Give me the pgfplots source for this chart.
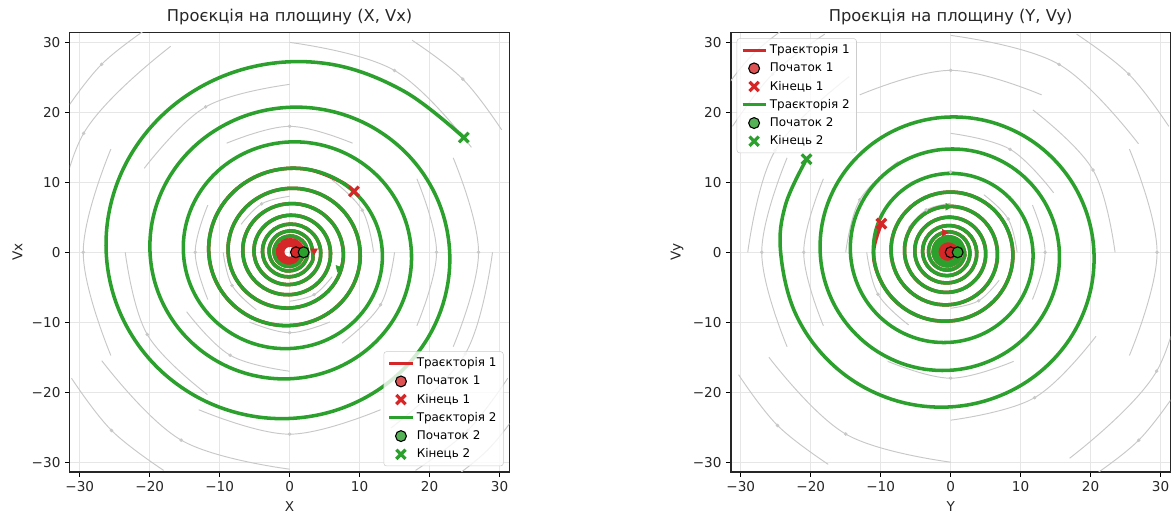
\documentclass[border=0pt]{standalone}
\usepackage{fontspec}
\setmainfont{DejaVu Sans}
\usepackage{pgfplots}
\pgfplotsset{compat=1.18}
\usetikzlibrary{arrows.meta}
\definecolor{tred}{HTML}{D62728}
\definecolor{tgreen}{HTML}{2CA02C}
\definecolor{gridc}{HTML}{E6E6E6}
\definecolor{streamc}{HTML}{C8C8C8}
\pgfplotsset{
 phase/.style={
  scale only axis, width=323.5pt, height=323.5pt,
  xmin=-31.4, xmax=31.4, ymin=-31.4, ymax=31.4,
  xtick={-30,-20,-10,0,10,20,30}, ytick={-30,-20,-10,0,10,20,30},
  xticklabels={−30,−20,−10,0,10,20,30}, yticklabels={−30,−20,−10,0,10,20,30},
  tick pos=left, tick align=outside, major tick length=3.5pt,
  every tick/.style={black, line width=0.8pt},
  axis line style={black!85, line width=0.8pt},
  grid=major, major grid style={gridc, line width=0.8pt},
  ticklabel style={font=\fontsize{10}{12}\selectfont, text=black!85},
  label style={font=\fontsize{10}{12}\selectfont, text=black!85},
  title style={font=\fontsize{12}{14}\selectfont, text=black!85, yshift=-4pt},
  legend cell align=left,
  legend style={font=\fontsize{8.8}{10.5}\selectfont, draw=black!20, fill=white, fill opacity=0.8, text opacity=1, rounded corners=2pt, row sep=1.3pt, inner xsep=3pt, inner ysep=2.5pt},
 },
 stream/.style={streamc, line width=0.7pt, smooth, tension=0.65, forget plot},
 traj/.style={line width=2.6pt, smooth, tension=0.62, forget plot, line join=round, line cap=round},
 startmk/.style={only marks, forget plot, mark=*, mark size=4pt, mark options={fill=#1, draw=black, line width=0.8pt}},
 endmk/.style={#1, only marks, forget plot, mark=x, mark size=5pt, mark options={#1, line width=2.4pt}},
}
\begin{document}
\begin{tikzpicture}[x=1pt,y=1pt]
\path[use as bounding box] (0,0) rectangle (864.4,379.9);
% ---------------- left panel ----------------
\begin{axis}[phase, at={(51.5pt,32.4pt)}, anchor=south west,
  title={Проєкція на площину (X, Vx)}, xlabel={X}, ylabel={Vx},
  legend style={at={(0.987,0.013)}, anchor=south east}]
\addplot[stream] coordinates {(-17,29.44) (-29.44,17) (-34,0)};
\addplot[stream] coordinates {(25.98,15) (15,25.98) (0,30)};
\addplot[stream] coordinates {(-26.85,-15.5) (-15.5,-26.85) (0,-31)};
\addplot[stream] coordinates {(14.5,-25.11) (25.11,-14.5) (29,0)};
\addplot[stream] coordinates {(0,24) (-12,20.78) (-20.78,12)};
\addplot[stream] coordinates {(-23.5,0) (-20.35,-11.75) (-11.75,-20.35)};
\addplot[stream] coordinates {(18.19,-10.5) (21,0) (18.19,10.5)};
\addplot[stream] coordinates {(9,15.59) (0,18) (-9,15.59)};
\addplot[stream] coordinates {(-14.72,-8.5) (-8.5,-14.72) (0,-17)};
\addplot[stream] coordinates {(-11.69,6.75) (-13.5,0) (-11.69,-6.75)};
\addplot[stream] coordinates {(12,0) (10.39,6) (6,10.39)};
\addplot[stream] coordinates {(-5.75,-9.96) (0,-11.5) (5.75,-9.96)};
\addplot[stream] coordinates {(0,8) (-4,6.93) (-6.93,4)};
\addplot[stream] coordinates {(0,-7) (3.5,-6.06) (6.06,-3.5)};
\addplot[stream] coordinates {(30.31,17.5) (24.75,24.75) (17.5,30.31)};
\addplot[stream] coordinates {(-31.18,-18) (-25.46,-25.46) (-18,-31.18)};
\addplot[stream] coordinates {(23.38,-13.5) (27,0) (23.38,13.5)};
\addplot[stream] coordinates {(-25.55,14.75) (-29.5,0) (-25.55,-14.75)};
\addplot[stream] coordinates {(18,-31.18) (25.46,-25.46) (31.18,-18)};
\addplot[stream] coordinates {(-19,32.9) (-26.87,26.87) (-32.9,19)};
\addplot[stream] coordinates {(20,-34.6) (28.28,-28.28) (34.6,-20)};
\addplot[stream] coordinates {(7.5,-12.99) (12.99,-7.5) (15,0)};
\addplot[stream] coordinates {(-9.5,0) (-8.23,-4.75) (-4.75,-8.23)};
\addplot[stream] coordinates {(-13,-22.5) (0,-26) (13,-22.5)};
\addplot[streamc, only marks, forget plot, mark=*, mark size=1.1pt] coordinates {
(-29.44,17) (15,25.98) (-15.5,-26.85) (25.11,-14.5) (-12,20.78) (-20.35,-11.75) (21,0) (0,18)
(-8.5,-14.72) (-13.5,0) (10.39,6) (0,-11.5) (-4,6.93) (3.5,-6.06) (24.75,24.75) (-25.46,-25.46)
(27,0) (-29.5,0) (25.46,-25.46) (-26.87,26.87) (12.99,-7.5) (-8.23,-4.75) (0,-26)};
% trajectory 1
\addplot[traj, tred] coordinates {
(0.86,0)
(0.853,-0.176) (0.491,-0.734) (-0.194,-0.886) (-0.811,-0.511) (-0.978,0.202) (-0.563,0.841) (0.222,1.015) (0.928,0.585)
(1.120,-0.231) (0.646,-0.965) (-0.255,-1.164) (-1.064,-0.670) (-1.284,0.265) (-0.740,1.105) (0.292,1.334) (1.220,0.769)
(1.473,-0.304) (0.848,-1.267) (-0.335,-1.529) (-1.399,-0.881) (-1.688,0.348) (-0.972,1.452) (0.384,1.753) (1.603,1.010)
(1.935,-0.399) (1.115,-1.665) (-0.440,-2.009) (-1.837,-1.157) (-2.218,0.457) (-1.278,1.909) (0.505,2.303) (2.106,1.326)
(2.542,-0.524) (1.464,-2.187) (-0.578,-2.640) (-2.415,-1.521) (-2.914,0.601) (-1.678,2.507) (0.663,3.026) (2.768,1.743)
(3.340,-0.689) (2.863,-1.908) (1.924,-2.874) (0.655,-3.428) (-0.760,-3.469) (-2.106,-2.973) (-3.173,-1.999) (-3.784,-0.680)
(-3.829,0.790) (-3.281,2.188) (-2.206,3.295) (-0.751,3.930) (0.871,3.975) (2.414,3.407) (3.636,2.290) (4.336,0.779)
(4.388,-0.905) (3.761,-2.507) (2.528,-3.776) (0.860,-4.504) (-0.999,-4.558) (-2.768,-3.906) (-4.168,-2.626) (-4.971,-0.893)
(-5.030,1.037) (-4.311,2.874) (-2.898,4.329) (-0.986,5.163) (1.145,5.224) (3.172,4.477) (4.778,3.010) (5.698,1.024)
(5.765,-1.189) (4.941,-3.294) (3.322,-4.962) (1.130,-5.917) (-1.312,-5.988) (-3.636,-5.132) (-5.477,-3.450) (-6.532,-1.174)
(-6.609,1.363) (-5.664,3.776) (-3.807,5.687) (-1.296,6.783) (1.504,6.864) (4.168,5.883) (6.278,3.955) (7.487,1.346)
(7.576,-1.562) (6.493,-4.328) (4.364,-6.519) (1.485,-7.775) (-1.724,-7.868) (-4.777,-6.742) (-7.196,-4.533) (-8.582,-1.542)
(-8.683,1.791) (-7.442,4.961) (-5.002,7.472) (-1.702,8.912) (1.976,9.018) (5.476,7.729) (8.249,5.196) (9.837,1.768)
(9.953,-2.052) (8.530,-5.687) (5.734,-8.566) (1.951,-10.216) (-2.265,-10.337) (-6.277,-8.859) (-9.455,-5.956) (-11.276,-2.027)
(-11.409,2.353) (-9.778,6.519) (-6.573,9.818) (-2.237,11.710) (2.596,11.849) (7.195,10.154) (9.2,8.7)
};
% trajectory 2
\addplot[traj, tgreen] coordinates {
(1.96,0)
(1.935,-0.399) (1.115,-1.665) (-0.440,-2.009) (-1.837,-1.157) (-2.218,0.457) (-1.278,1.909) (0.505,2.303) (2.106,1.326)
(2.542,-0.524) (1.464,-2.187) (-0.578,-2.640) (-2.415,-1.521) (-2.914,0.601) (-1.678,2.507) (0.663,3.026) (2.768,1.743)
(3.340,-0.689) (2.863,-1.908) (1.924,-2.874) (0.655,-3.428) (-0.760,-3.469) (-2.106,-2.973) (-3.173,-1.999) (-3.784,-0.680)
(-3.829,0.790) (-3.281,2.188) (-2.206,3.295) (-0.751,3.930) (0.871,3.975) (2.414,3.407) (3.636,2.290) (4.336,0.779)
(4.388,-0.905) (3.761,-2.507) (2.528,-3.776) (0.860,-4.504) (-0.999,-4.558) (-2.768,-3.906) (-4.168,-2.626) (-4.971,-0.893)
(-5.030,1.037) (-4.311,2.874) (-2.898,4.329) (-0.986,5.163) (1.145,5.224) (3.172,4.477) (4.778,3.010) (5.698,1.024)
(5.765,-1.189) (4.941,-3.294) (3.322,-4.962) (1.130,-5.917) (-1.312,-5.988) (-3.636,-5.132) (-5.477,-3.450) (-6.532,-1.174)
(-6.609,1.363) (-5.664,3.776) (-3.807,5.687) (-1.296,6.783) (1.504,6.864) (4.168,5.883) (6.278,3.955) (7.487,1.346)
(7.576,-1.562) (6.493,-4.328) (4.364,-6.519) (1.485,-7.775) (-1.724,-7.868) (-4.777,-6.742) (-7.196,-4.533) (-8.582,-1.542)
(-8.683,1.791) (-7.442,4.961) (-5.002,7.472) (-1.702,8.912) (1.976,9.018) (5.476,7.729) (8.249,5.196) (9.837,1.768)
(9.953,-2.052) (8.530,-5.687) (5.734,-8.566) (1.951,-10.216) (-2.265,-10.337) (-6.277,-8.859) (-9.455,-5.956) (-11.276,-2.027)
(-11.409,2.353) (-9.778,6.519) (-6.573,9.818) (-2.237,11.710) (2.596,11.849) (7.195,10.154) (10.838,6.827) (12.925,2.323)
(13.078,-2.697) (11.209,-7.473) (7.535,-11.255) (2.564,-13.423) (-2.976,-13.582) (-8.247,-11.640) (-12.422,-7.825) (-14.814,-2.663)
(-14.990,3.091) (-12.847,8.565) (-8.636,12.900) (-2.939,15.385) (3.411,15.568) (9.454,13.342) (14.239,8.969) (16.982,3.052)
(17.183,-3.543) (14.727,-9.818) (9.900,-14.788) (3.369,-17.636) (-3.910,-17.845) (-10.836,-15.293) (-16.322,-10.281) (-19.466,-3.499)
(-19.696,4.062) (-16.881,11.254) (-11.348,16.951) (-3.862,20.216) (4.482,20.455) (12.421,17.530) (18.710,11.785) (22.313,4.010)
(22.577,-4.656) (19.349,-12.900) (13.007,-19.429) (4.426,-23.172) (-5.138,-23.448) (-14.238,-20.094) (-21.446,-13.509) (-25.576,-4.597)
(-25.879,5.337) (-22.180,14.787) (-14.910,22.271) (-5.074,26.561) (5.889,26.877) (16.321,23.034) (24.9,16.4)
};
\addplot[tred, only marks, forget plot, mark=triangle*, mark size=2.8pt, mark options={rotate=180}] coordinates {(3.5,0.2)};
\addplot[tgreen, only marks, forget plot, mark=triangle*, mark size=2.8pt, mark options={rotate=162}] coordinates {(7.0,-2.3)};
\addplot[startmk=tred] coordinates {(0.9,0)};
\addplot[endmk=tred] coordinates {(9.2,8.7)};
\addplot[startmk=tgreen] coordinates {(2.0,0)};
\addplot[endmk=tgreen] coordinates {(24.9,16.4)};
\addlegendimage{tred, line width=2.2pt}
\addlegendentry{Траєкторія 1}
\addlegendimage{only marks, mark=*, mark size=4pt, mark options={fill=tred, draw=black, line width=0.8pt}}
\addlegendentry{Початок 1}
\addlegendimage{tred, only marks, mark=x, mark size=4.8pt, mark options={tred, line width=2.4pt}}
\addlegendentry{Кінець 1}
\addlegendimage{tgreen, line width=2.2pt}
\addlegendentry{Траєкторія 2}
\addlegendimage{only marks, mark=*, mark size=4pt, mark options={fill=tgreen, draw=black, line width=0.8pt}}
\addlegendentry{Початок 2}
\addlegendimage{tgreen, only marks, mark=x, mark size=4.8pt, mark options={tgreen, line width=2.4pt}}
\addlegendentry{Кінець 2}
\end{axis}
% ---------------- right panel ----------------
\begin{axis}[phase, at={(538.2pt,32.4pt)}, anchor=south west,
  title={Проєкція на площину (Y, Vy)}, xlabel={Y}, ylabel={Vy},
  legend style={at={(0.013,0.987)}, anchor=north west}]
\addplot[stream] coordinates {(17,-29.44) (29.44,-17) (34,0)};
\addplot[stream] coordinates {(-25.98,-15) (-15,-25.98) (0,-30)};
\addplot[stream] coordinates {(26.85,15.5) (15.5,26.85) (0,31)};
\addplot[stream] coordinates {(-14.5,25.11) (-25.11,14.5) (-29,0)};
\addplot[stream] coordinates {(0,-24) (12,-20.78) (20.78,-12)};
\addplot[stream] coordinates {(23.5,0) (20.35,11.75) (11.75,20.35)};
\addplot[stream] coordinates {(-18.19,10.5) (-21,0) (-18.19,-10.5)};
\addplot[stream] coordinates {(-9,-15.59) (0,-18) (9,-15.59)};
\addplot[stream] coordinates {(14.72,8.5) (8.5,14.72) (0,17)};
\addplot[stream] coordinates {(11.69,-6.75) (13.5,0) (11.69,6.75)};
\addplot[stream] coordinates {(-12,0) (-10.39,-6) (-6,-10.39)};
\addplot[stream] coordinates {(5.75,9.96) (0,11.5) (-5.75,9.96)};
\addplot[stream] coordinates {(0,-8) (4,-6.93) (6.93,-4)};
\addplot[stream] coordinates {(0,7) (-3.5,6.06) (-6.06,3.5)};
\addplot[stream] coordinates {(-30.31,-17.5) (-24.75,-24.75) (-17.5,-30.31)};
\addplot[stream] coordinates {(31.18,18) (25.46,25.46) (18,31.18)};
\addplot[stream] coordinates {(-23.38,13.5) (-27,0) (-23.38,-13.5)};
\addplot[stream] coordinates {(25.55,-14.75) (29.5,0) (25.55,14.75)};
\addplot[stream] coordinates {(-18,31.18) (-25.46,25.46) (-31.18,18)};
\addplot[stream] coordinates {(19,-32.9) (26.87,-26.87) (32.9,-19)};
\addplot[stream] coordinates {(-20,34.6) (-28.28,28.28) (-34.6,20)};
\addplot[stream] coordinates {(-7.5,12.99) (-12.99,7.5) (-15,0)};
\addplot[stream] coordinates {(9.5,0) (8.23,4.75) (4.75,8.23)};
\addplot[stream] coordinates {(13,22.5) (0,26) (-13,22.5)};
\addplot[streamc, only marks, forget plot, mark=*, mark size=1.1pt] coordinates {
(29.44,-17) (-15,-25.98) (15.5,26.85) (-25.11,14.5) (12,-20.78) (20.35,11.75) (-21,0) (0,-18)
(8.5,14.72) (13.5,0) (-10.39,-6) (0,11.5) (4,-6.93) (-3.5,6.06) (-24.75,-24.75) (25.46,25.46)
(-27,0) (29.5,0) (-25.46,25.46) (26.87,-26.87) (-12.99,7.5) (8.23,4.75) (0,26)};
% trajectory 1
\addplot[traj, tred] coordinates {
(-0.036,0) (-0.134,-0.263) (-0.4,-0.385) (-0.685,-0.282) (-0.816,0) (-0.704,0.301) (-0.4,0.441) (-0.074,0.322)
(0.076,0) (-0.052,-0.345) (-0.4,-0.505) (-0.773,-0.369) (-0.945,0) (-0.799,0.395) (-0.4,0.577) (0.027,0.422)
(0.224,0) (0.056,-0.452) (-0.4,-0.661) (-0.888,-0.483) (-1.114,0) (-0.922,0.517) (-0.4,0.757) (0.159,0.553)
(0.418,0) (0.198,-0.592) (-0.4,-0.866) (-1.040,-0.633) (-1.336,0) (-1.084,0.677) (-0.4,0.991) (0.332,0.725)
(0.671,0) (0.383,-0.775) (-0.4,-1.134) (-1.238,-0.830) (-1.626,0) (-1.297,0.888) (-0.4,1.298) (0.559,0.949)
(1.003,0) (0.626,-1.016) (-0.4,-1.486) (-1.498,-1.087) (-2.006,0) (-1.575,1.163) (-0.4,1.701) (0.857,1.244)
(1.438,0) (0.944,-1.331) (-0.4,-1.946) (-1.838,-1.424) (-2.504,0) (-1.939,1.523) (-0.4,2.228) (1.246,1.630)
(2.008,0) (1.863,-0.928) (1.361,-1.743) (0.569,-2.316) (-0.4,-2.550) (-1.403,-2.396) (-2.284,-1.865) (-2.903,-1.026)
(-3.156,0) (-2.990,1.062) (-2.415,1.995) (-1.509,2.651) (-0.4,2.919) (0.747,2.742) (1.756,2.134) (2.465,1.175)
(2.754,0) (2.564,-1.215) (1.907,-2.283) (0.870,-3.034) (-0.4,-3.340) (-1.713,-3.139) (-2.868,-2.443) (-3.679,-1.345)
(-4.010,0) (-3.792,1.391) (-3.040,2.614) (-1.853,3.474) (-0.4,3.823) (1.103,3.593) (2.425,2.797) (3.354,1.539)
(3.732,0) (3.483,-1.592) (2.622,-2.992) (1.263,-3.976) (-0.4,-4.376) (-2.120,-4.112) (-3.633,-3.200) (-4.696,-1.762)
(-5.129,0) (-4.844,1.822) (-3.858,3.424) (-2.304,4.550) (-0.4,5.008) (1.569,4.706) (3.300,3.663) (4.517,2.016)
(5.013,0) (4.686,-2.086) (3.559,-3.919) (1.779,-5.208) (-0.4,-5.733) (-2.654,-5.387) (-4.636,-4.193) (-6.028,-2.308)
(-6.595,0) (-6.221,2.387) (-4.931,4.486) (-2.894,5.961) (-0.4,6.562) (2.180,6.166) (4.448,4.799) (6.042,2.642)
(6.691,0) (6.263,-2.732) (4.786,-5.134) (2.454,-6.822) (-0.4,-7.510) (-3.353,-7.057) (-5.948,-5.492) (-7.772,-3.023)
(-8.516,0) (-8.026,3.127) (-6.335,5.876) (-3.667,7.808) (-0.4,8.596) (2.980,8.077) (5.950,6.287) (8.039,3.461)
(8.889,0) (8.328,-3.579) (6.394,-6.726) (3.340,-8.938) (-0.4,-9.839) (-4.268,-9.245) (-7.668,-7.195) (-10.058,-3.961)
(-11.032,0) (-9.9,4.1)
};
% trajectory 2
\addplot[traj, tgreen] coordinates {
(1.003,0) (0.626,-1.016) (-0.4,-1.486) (-1.498,-1.087) (-2.006,0) (-1.575,1.163) (-0.4,1.701) (0.857,1.244)
(1.438,0) (0.944,-1.331) (-0.4,-1.946) (-1.838,-1.424) (-2.504,0) (-1.939,1.523) (-0.4,2.228) (1.246,1.630)
(2.008,0) (1.863,-0.928) (1.361,-1.743) (0.569,-2.316) (-0.4,-2.550) (-1.403,-2.396) (-2.284,-1.865) (-2.903,-1.026)
(-3.156,0) (-2.990,1.062) (-2.415,1.995) (-1.509,2.651) (-0.4,2.919) (0.747,2.742) (1.756,2.134) (2.465,1.175)
(2.754,0) (2.564,-1.215) (1.907,-2.283) (0.870,-3.034) (-0.4,-3.340) (-1.713,-3.139) (-2.868,-2.443) (-3.679,-1.345)
(-4.010,0) (-3.792,1.391) (-3.040,2.614) (-1.853,3.474) (-0.4,3.823) (1.103,3.593) (2.425,2.797) (3.354,1.539)
(3.732,0) (3.483,-1.592) (2.622,-2.992) (1.263,-3.976) (-0.4,-4.376) (-2.120,-4.112) (-3.633,-3.200) (-4.696,-1.762)
(-5.129,0) (-4.844,1.822) (-3.858,3.424) (-2.304,4.550) (-0.4,5.008) (1.569,4.706) (3.300,3.663) (4.517,2.016)
(5.013,0) (4.686,-2.086) (3.559,-3.919) (1.779,-5.208) (-0.4,-5.733) (-2.654,-5.387) (-4.636,-4.193) (-6.028,-2.308)
(-6.595,0) (-6.221,2.387) (-4.931,4.486) (-2.894,5.961) (-0.4,6.562) (2.180,6.166) (4.448,4.799) (6.042,2.642)
(6.691,0) (6.263,-2.732) (4.786,-5.134) (2.454,-6.822) (-0.4,-7.510) (-3.353,-7.057) (-5.948,-5.492) (-7.772,-3.023)
(-8.516,0) (-8.026,3.127) (-6.335,5.876) (-3.667,7.808) (-0.4,8.596) (2.980,8.077) (5.950,6.287) (8.039,3.461)
(8.889,0) (8.328,-3.579) (6.394,-6.726) (3.340,-8.938) (-0.4,-9.839) (-4.268,-9.245) (-7.668,-7.195) (-10.058,-3.961)
(-11.032,0) (-10.390,4.097) (-8.176,7.698) (-4.680,10.230) (-0.4,11.260) (4.027,10.581) (7.919,8.236) (10.655,4.533)
(11.769,0) (11.034,-4.689) (8.500,-8.811) (4.499,-11.709) (-0.4,-12.889) (-5.467,-12.111) (-9.922,-9.426) (-13.053,-5.189)
(-14.328,0) (-13.487,5.367) (-10.587,10.084) (-6.007,13.401) (-0.4,14.752) (5.400,13.861) (10.498,10.788) (14.082,5.939)
(15.541,0) (14.579,-6.142) (11.259,-11.542) (6.018,-15.339) (-0.4,-16.883) (-7.038,-15.864) (-12.873,-12.348) (-16.975,-6.797)
(-18.646,0) (-17.545,7.031) (-13.744,13.210) (-7.745,17.555) (-0.4,19.325) (7.197,18.158) (13.876,14.133) (18.571,7.780)
(20.483,0) (19.222,-8.047) (14.873,-15.120) (8.007,-20.093) (-0.4,-22.118) (-9.095,-20.782) (-16.740,-16.176) (-22.113,-8.904)
(-24.302,0) (-23.6,6.8) (-20.6,13.3)
};
\addplot[tred, only marks, forget plot, mark=triangle*, mark size=2.8pt, mark options={rotate=-90}] coordinates {(-0.9,2.8)};
\addplot[tgreen, only marks, forget plot, mark=triangle*, mark size=2.8pt, mark options={rotate=-90}] coordinates {(-0.4,6.5)};
\addplot[startmk=tred] coordinates {(0,0)};
\addplot[endmk=tred] coordinates {(-9.9,4.1)};
\addplot[startmk=tgreen] coordinates {(1.0,0)};
\addplot[endmk=tgreen] coordinates {(-20.6,13.3)};
\addlegendimage{tred, line width=2.2pt}
\addlegendentry{Траєкторія 1}
\addlegendimage{only marks, mark=*, mark size=4pt, mark options={fill=tred, draw=black, line width=0.8pt}}
\addlegendentry{Початок 1}
\addlegendimage{tred, only marks, mark=x, mark size=4.8pt, mark options={tred, line width=2.4pt}}
\addlegendentry{Кінець 1}
\addlegendimage{tgreen, line width=2.2pt}
\addlegendentry{Траєкторія 2}
\addlegendimage{only marks, mark=*, mark size=4pt, mark options={fill=tgreen, draw=black, line width=0.8pt}}
\addlegendentry{Початок 2}
\addlegendimage{tgreen, only marks, mark=x, mark size=4.8pt, mark options={tgreen, line width=2.4pt}}
\addlegendentry{Кінець 2}
\end{axis}
\end{tikzpicture}
\end{document}
